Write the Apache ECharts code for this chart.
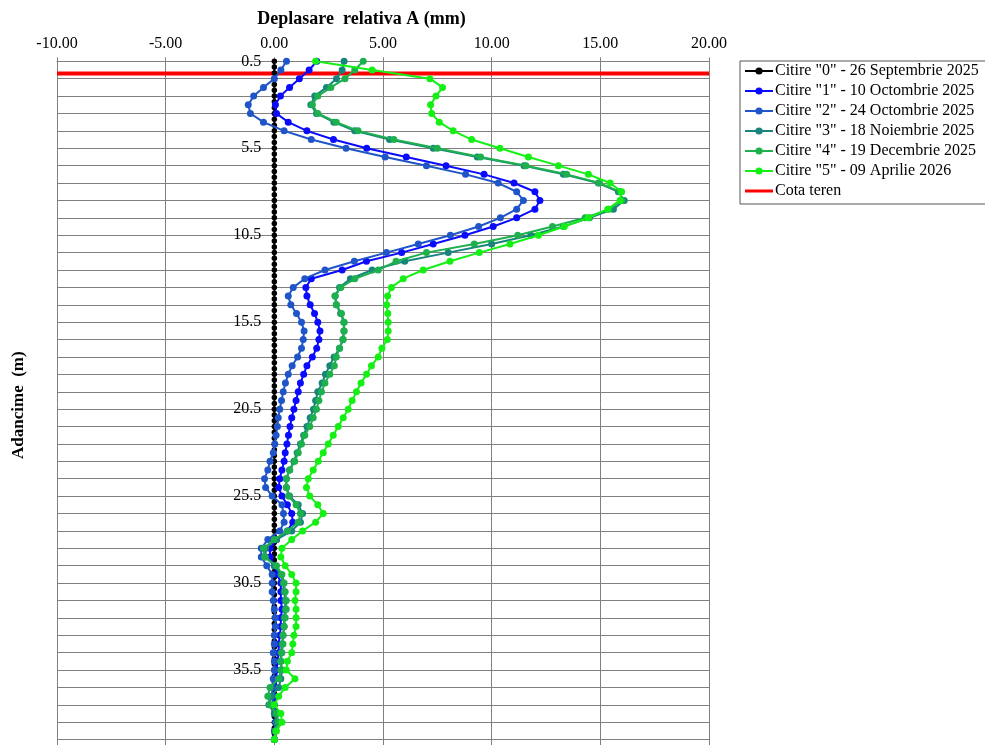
<!DOCTYPE html>
<html><head><meta charset="utf-8">
<script src="https://cdn.jsdelivr.net/npm/echarts@6/dist/echarts.min.js"></script>
<style>html,body{margin:0;padding:0;background:#fff}#c{width:985px;height:745px}</style>
</head><body><div id="c"></div>
<script>
const depths = [0.5,1,1.5,2,2.5,3,3.5,4,4.5,5,5.5,6,6.5,7,7.5,8,8.5,9,9.5,10,10.5,11,11.5,12,12.5,13,13.5,14,14.5,15,15.5,16,16.5,17,17.5,18,18.5,19,19.5,20,20.5,21,21.5,22,22.5,23,23.5,24,24.5,25,25.5,26,26.5,27,27.5,28,28.5,29,29.5,30,30.5,31,31.5,32,32.5,33,33.5,34,34.5,35,35.5,36,36.5,37,37.5,38,38.5,39,39.5];
const depths0 = [0.5,0.83,1.17,1.5,1.83,2.17,2.5,2.83,3.17,3.5,3.83,4.17,4.5,4.83,5.17,5.5,5.83,6.17,6.5,6.83,7.17,7.5,7.83,8.17,8.5,8.83,9.17,9.5,9.83,10.17,10.5,10.83,11.17,11.5,11.83,12.17,12.5,12.83,13.17,13.5,13.83,14.17,14.5,14.83,15.17,15.5,15.83,16.17,16.5,16.83,17.17,17.5,17.83,18.17,18.5,18.83,19.17,19.5,19.83,20.17,20.5,20.83,21.17,21.5,21.83,22.17,22.5,22.83,23.17,23.5,23.83,24.17,24.5,24.83,25.17,25.5,25.83,26.17,26.5,26.83,27.17,27.5,27.83,28.17,28.5,28.83,29.17,29.5,29.83,30.17,30.5,30.83,31.17,31.5,31.83,32.17,32.5,32.83,33.17,33.5,33.83,34.17,34.5,34.83,35.17,35.5,35.83,36.17,36.5,36.83,37.17,37.5,37.83,38.17,38.5,38.83,39.17,39.5];
const citire0 = [0,0,0,0,0,0,0,0,0,0,0,0,0,0,0,0,0,0,0,0,0,0,0,0,0,0,0,0,0,0,0,0,0,0,0,0,0,0,0,0,0,0,0,0,0,0,0,0,0,0,0,0,0,0,0,0,0,0,0,0,0,0,0,0,0,0,0,0,0,0,0,0,0,0,0,0,0,0,0,0,0,0,0,0,0,0,0,0,0,0,0,0,0,0,0,0,0,0,0,0,0,0,0,0,0,0,0,0,0,0,0,0,0,0,0,0,0,0];
const citire1 = [1.95,1.6,1.15,0.7,0.28,0.05,0.1,0.64,1.5,2.72,4.25,6.07,7.9,9.65,11.03,11.99,12.22,11.99,11.15,10.07,8.77,7.31,5.86,4.24,3.12,1.7,1.45,1.5,1.65,1.85,2.0,2.1,2.05,1.95,1.75,1.5,1.35,1.2,1.1,1.0,0.9,0.8,0.72,0.65,0.58,0.5,0.45,0.35,0.25,0.2,0.35,0.6,0.8,0.85,0.6,0.1,-0.2,-0.2,0.0,0.15,0.3,0.3,0.3,0.35,0.3,0.3,0.25,0.2,0.2,0.15,0.1,0.1,0.05,0.0,0.0,0.05,0.1,0.05,0.0];
const citire2 = [0.56,0.3,0.0,-0.5,-0.95,-1.2,-1.1,-0.5,0.45,1.7,3.3,5.1,7.0,8.8,10.3,11.15,11.46,11.15,10.4,9.4,8.1,6.62,5.16,3.68,2.33,1.4,0.87,0.64,0.76,1.02,1.25,1.37,1.33,1.25,1.07,0.82,0.64,0.51,0.41,0.33,0.25,0.18,0.14,0.08,0.02,-0.05,-0.2,-0.3,-0.45,-0.4,-0.1,0.35,0.42,0.45,0.25,-0.3,-0.6,-0.6,-0.35,-0.1,-0.1,-0.1,-0.05,0.0,0.05,0.05,0.0,0.0,-0.05,0.0,0.0,-0.05,-0.1,-0.1,-0.05,0.1,0.05,0.0,0.0];
const citire3 = [3.21,3.12,2.86,2.4,1.86,1.68,1.94,2.74,3.7,5.3,7.31,9.34,11.49,13.3,14.91,15.83,16.1,15.6,14.5,13.3,11.8,10.0,8.0,6.0,4.5,3.5,3.0,2.8,2.85,3.05,3.2,3.2,3.15,3.0,2.75,2.55,2.35,2.2,2.0,1.9,1.8,1.65,1.5,1.35,1.2,1.05,0.9,0.7,0.55,0.55,0.7,1.1,1.3,1.2,0.8,0.1,-0.4,-0.4,0.0,0.3,0.4,0.45,0.5,0.5,0.45,0.45,0.4,0.35,0.3,0.3,0.35,0.3,0.2,-0.15,-0.25,0.0,0.1,0.05,0.0];
const citire4 = [4.09,3.7,3.25,2.6,2.0,1.75,2.0,2.85,3.85,5.5,7.5,9.49,11.58,13.45,14.96,15.91,16.0,15.4,14.3,12.8,11.2,9.2,7.0,5.6,4.78,3.7,3.06,2.79,2.86,3.09,3.21,3.21,3.17,3.0,2.85,2.76,2.55,2.33,2.17,2.05,1.94,1.79,1.63,1.4,1.25,1.1,0.94,0.71,0.56,0.56,0.65,1.0,1.2,1.1,0.6,0.0,-0.5,-0.45,0.1,0.35,0.45,0.5,0.55,0.55,0.5,0.45,0.4,0.4,0.35,0.3,0.3,0.2,-0.2,-0.3,-0.2,0.1,0.2,0.05,0.0];
const citire5 = [1.9,4.5,7.16,7.74,7.44,7.19,7.24,7.59,8.23,9.08,10.38,11.69,13.07,14.45,15.45,15.98,15.91,15.34,14.45,13.34,12.15,10.84,9.43,8.08,6.85,5.93,5.39,5.21,5.17,5.22,5.24,5.24,5.2,4.95,4.78,4.47,4.24,3.99,3.78,3.58,3.4,3.17,2.94,2.71,2.48,2.25,2.02,1.79,1.56,1.48,1.63,2.0,2.25,1.9,1.3,0.8,0.35,0.3,0.5,0.8,1.0,1.0,0.95,1.0,1.0,1.0,0.9,0.85,0.8,0.6,0.55,0.95,0.5,0.2,0.0,0.3,0.35,0.1,0.0];
const cotaTeren = 1.2;
const xRange = [-10, 20];
const seriesNames = ['Citire "0" - 26 Septembrie 2025','Citire "1" - 10 Octombrie 2025','Citire "2" - 24 Octombrie 2025','Citire "3" - 18 Noiembrie 2025','Citire "4" - 19 Decembrie 2025','Citire "5" - 09 Aprilie 2026','Cota teren'];
const seriesColors = ['#000000','#0a0aff','#1f55c8','#17857c','#1db04c','#14f014','#ff0000'];
const seriesValues = [citire0,citire1,citire2,citire3,citire4,citire5];
const seriesDepths = [depths0,depths,depths,depths,depths,depths];
const symbolSizes = [5.5,7,7,7,7,7];

const FONT = 'Liberation Serif';
const GRID_LEFT = 57, GRID_WIDTH = 652;
const chart = echarts.init(document.getElementById('c'), null, {renderer:'canvas'});
const series = [];
series.push({
  name: seriesNames[6], type:'line', symbol:'none', z:1,
  data: xRange.map(x => [x, cotaTeren]),
  lineStyle:{color:seriesColors[6], width:4}, itemStyle:{color:seriesColors[6]}
});
seriesValues.forEach((vals, i) => {
  series.push({
    name: seriesNames[i], type:'line', symbol:'circle', symbolSize:symbolSizes[i], z: 2+i,
    data: vals.map((v, k) => [v, seriesDepths[i][k]]),
    lineStyle:{color:seriesColors[i], width:2},
    itemStyle:{color:seriesColors[i]}
  });
});
const legendData = [0,1,2,3,4,5].map(i => ({name: seriesNames[i]}));
legendData.push({name: seriesNames[6], icon:'path://M0,0 L28,0 L28,3 L0,3 Z'});
// y axis drawn where x = 0 (shift from left edge)
const yAxisOffset = -GRID_WIDTH * (0 - xRange[0]) / (xRange[1] - xRange[0]);
const option = {
  animation:false,
  backgroundColor:'#ffffff',
  grid:{left:GRID_LEFT, width:GRID_WIDTH, top:61.3, bottom:-12, containLabel:false, outerBoundsMode:'none'},
  legend:{
    orient:'vertical', left:740, top:61, padding:[2,10,5,4], itemGap:4,
    itemWidth:28, itemHeight:9,
    borderColor:'#555', borderWidth:1, borderRadius:0,
    textStyle:{fontFamily:FONT, fontSize:16, color:'#000', padding:[0,0,0,-3]},
    data: legendData
  },
  xAxis:{
    type:'value', position:'top', min:xRange[0], max:xRange[1], interval:5,
    name:'Deplasare  relativa A (mm)', nameLocation:'middle', nameGap:33,
    nameTextStyle:{fontFamily:FONT, fontSize:18, fontWeight:'bold', color:'#000', padding:[0,43,0,0]},
    axisLine:{show:true, onZero:false, lineStyle:{color:'#808080', width:1}},
    axisTick:{show:true, inside:false, length:4, lineStyle:{color:'#808080'}},
    axisLabel:{fontFamily:FONT, fontSize:16, color:'#000', margin:10, formatter:v => v.toFixed(2)},
    splitLine:{show:true, lineStyle:{color:'#808080', width:1}}
  },
  yAxis:{
    type:'value', inverse:true, min:0.5, max:40.5, interval:1, position:'left', offset:yAxisOffset,
    name:'Adancime  (m)', nameLocation:'middle', nameGap:247, nameRotate:90,
    nameTextStyle:{fontFamily:FONT, fontSize:17, fontWeight:'bold', color:'#000', padding:[0,0,0,8]},
    axisLine:{show:true, onZero:false, lineStyle:{color:'#808080', width:1}},
    axisTick:{show:false},
    axisLabel:{fontFamily:FONT, fontSize:16, color:'#000', margin:13,
      formatter:v => (Math.abs(((v-0.5)%5)) < 1e-6) ? v.toFixed(1) : ''},
    splitLine:{show:true, lineStyle:{color:'#808080', width:1}}
  },
  series: series
};
chart.setOption(option);
</script></body></html>
